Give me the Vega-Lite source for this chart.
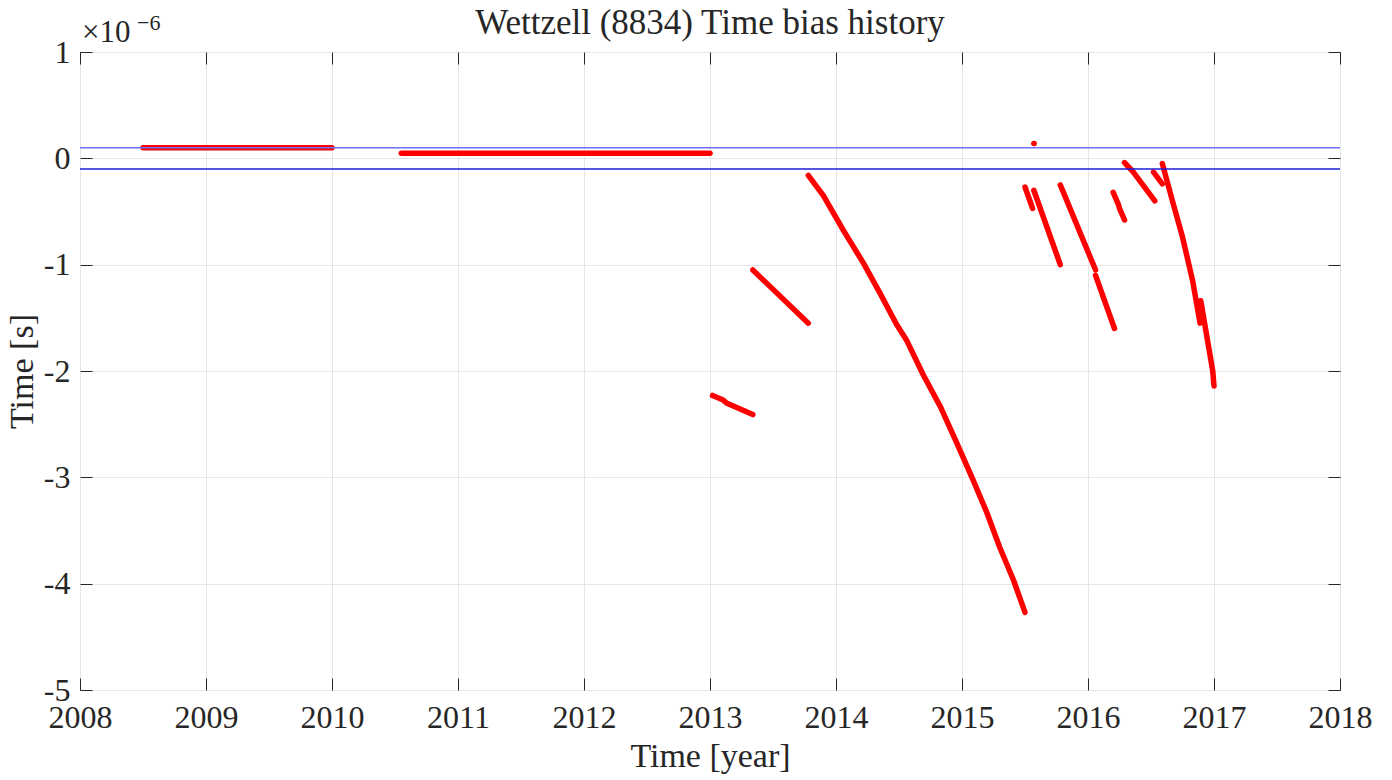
{
  "$schema": "https://vega.github.io/schema/vega-lite/v6.json",
  "width": 1260,
  "height": 638,
  "autosize": {"type": "none"},
  "padding": {"left": 80, "top": 52, "right": 52, "bottom": 90},
  "background": "white",
  "config": {
    "font": "Liberation Serif",
    "view": {"stroke": "#262626", "strokeWidth": 1},
    "axis": {"labelFont": "Liberation Serif", "titleFont": "Liberation Serif", "labelColor": "#262626", "titleColor": "#262626", "titleFontWeight": "normal"}
  },
  "title": {"text": "Wettzell (8834) Time bias history", "fontSize": 35, "fontWeight": "normal", "color": "#262626", "font": "Liberation Serif", "frame": "group", "anchor": "middle", "offset": -29},
  "datasets": {
    "bias": [
      {"seg": "A", "year": 2008.5, "v": 0.1}, {"seg": "A", "year": 2010.0, "v": 0.1},
      {"seg": "B", "year": 2010.55, "v": 0.047}, {"seg": "B", "year": 2013.0, "v": 0.047},
      {"seg": "C", "year": 2013.02, "v": -2.23}, {"seg": "C", "year": 2013.1, "v": -2.27}, {"seg": "C", "year": 2013.13, "v": -2.3}, {"seg": "C", "year": 2013.34, "v": -2.41},
      {"seg": "D", "year": 2013.34, "v": -1.05}, {"seg": "D", "year": 2013.78, "v": -1.55},
      {"seg": "E", "year": 2013.78, "v": -0.16}, {"seg": "E", "year": 2013.9, "v": -0.35}, {"seg": "E", "year": 2014.06, "v": -0.68}, {"seg": "E", "year": 2014.22, "v": -0.99}, {"seg": "E", "year": 2014.35, "v": -1.27}, {"seg": "E", "year": 2014.48, "v": -1.56}, {"seg": "E", "year": 2014.56, "v": -1.71}, {"seg": "E", "year": 2014.69, "v": -2.03}, {"seg": "E", "year": 2014.83, "v": -2.34}, {"seg": "E", "year": 2014.96, "v": -2.68}, {"seg": "E", "year": 2015.09, "v": -3.03}, {"seg": "E", "year": 2015.2, "v": -3.34}, {"seg": "E", "year": 2015.3, "v": -3.66}, {"seg": "E", "year": 2015.41, "v": -3.97}, {"seg": "E", "year": 2015.5, "v": -4.27},
      {"seg": "F", "year": 2015.57, "v": 0.14}, {"seg": "F", "year": 2015.573, "v": 0.14},
      {"seg": "G", "year": 2015.5, "v": -0.27}, {"seg": "G", "year": 2015.56, "v": -0.47},
      {"seg": "H", "year": 2015.57, "v": -0.3}, {"seg": "H", "year": 2015.78, "v": -1.0},
      {"seg": "I", "year": 2015.78, "v": -0.25}, {"seg": "I", "year": 2016.06, "v": -1.05},
      {"seg": "J", "year": 2016.06, "v": -1.1}, {"seg": "J", "year": 2016.21, "v": -1.6},
      {"seg": "K", "year": 2016.2, "v": -0.32}, {"seg": "K", "year": 2016.24, "v": -0.43}, {"seg": "K", "year": 2016.25, "v": -0.47}, {"seg": "K", "year": 2016.29, "v": -0.58},
      {"seg": "L", "year": 2016.29, "v": -0.04}, {"seg": "L", "year": 2016.36, "v": -0.13}, {"seg": "L", "year": 2016.53, "v": -0.4},
      {"seg": "M", "year": 2016.52, "v": -0.13}, {"seg": "M", "year": 2016.59, "v": -0.24},
      {"seg": "N", "year": 2016.59, "v": -0.05}, {"seg": "N", "year": 2016.67, "v": -0.4}, {"seg": "N", "year": 2016.75, "v": -0.74}, {"seg": "N", "year": 2016.83, "v": -1.15}, {"seg": "N", "year": 2016.89, "v": -1.55},
      {"seg": "O", "year": 2016.895, "v": -1.34}, {"seg": "O", "year": 2016.99, "v": -2.0}, {"seg": "O", "year": 2017.0, "v": -2.14}
    ],
    "limits": [
      {"lim": "upper", "v": 0.1},
      {"lim": "lower", "v": -0.1}
    ],
    "scaleNote": [
      {"year": 2008, "v": 1, "base": "×10", "exp": "−6"}
    ]
  },
  "resolve": {"axis": {"x": "independent", "y": "independent"}},
  "layer": [
    {
      "data": {"name": "bias"},
      "mark": {"type": "line", "color": "#ff0000", "strokeWidth": 5.5, "strokeCap": "round", "strokeJoin": "round", "clip": true},
      "encoding": {
        "x": {"field": "year", "type": "quantitative", "scale": {"domain": [2008, 2018], "nice": false, "zero": false},
          "axis": {"title": "Time [year]", "titleFontSize": 34, "labelFontSize": 32, "format": "d", "values": [2008, 2009, 2010, 2011, 2012, 2013, 2014, 2015, 2016, 2017, 2018], "grid": true, "gridColor": "#e6e6e6", "domain": false, "tickColor": "#262626", "tickSize": -12, "labelPadding": 24, "titlePadding": 6, "labelFlush": false}},
        "y": {"field": "v", "type": "quantitative", "scale": {"domain": [-5, 1], "nice": false, "zero": false},
          "axis": {"title": "Time [s]", "titleFontSize": 34, "labelFontSize": 32, "values": [-5, -4, -3, -2, -1, 0, 1], "labelExpr": "datum.value < 0 ? '-' + abs(datum.value) : '' + datum.value", "grid": true, "gridColor": "#e6e6e6", "domain": false, "tickColor": "#262626", "tickSize": -12, "labelPadding": 22, "titlePadding": 4}},
        "detail": {"field": "seg", "type": "nominal"}
      }
    },
    {
      "data": {"name": "limits"},
      "mark": {"type": "rule", "strokeWidth": 1.5},
      "encoding": {
        "y": {"field": "v", "type": "quantitative",
          "axis": {"orient": "right", "labels": false, "title": null, "grid": false, "domain": false, "tickColor": "#262626", "tickSize": -12, "values": [-5, -4, -3, -2, -1, 0, 1]}},
        "color": {"field": "lim", "type": "nominal", "scale": {"domain": ["upper", "lower"], "range": ["#6f6fff", "#1c1cd6"]}, "legend": null}
      }
    },
    {
      "data": {"name": "scaleNote"},
      "mark": {"type": "text", "align": "left", "baseline": "alphabetic", "fontSize": 31, "color": "#262626", "dy": -10, "dx": 2, "font": "Liberation Serif"},
      "encoding": {
        "x": {"field": "year", "type": "quantitative",
          "axis": {"orient": "top", "labels": false, "title": null, "grid": false, "domain": false, "tickColor": "#262626", "tickSize": -12, "values": [2008, 2009, 2010, 2011, 2012, 2013, 2014, 2015, 2016, 2017, 2018]}},
        "y": {"field": "v", "type": "quantitative", "axis": null},
        "text": {"field": "base"}
      }
    },
    {
      "data": {"name": "scaleNote"},
      "mark": {"type": "text", "align": "left", "baseline": "alphabetic", "fontSize": 22, "color": "#262626", "dy": -22, "dx": 57, "font": "Liberation Serif"},
      "encoding": {
        "x": {"field": "year", "type": "quantitative", "axis": null},
        "y": {"field": "v", "type": "quantitative", "axis": null},
        "text": {"field": "exp"}
      }
    }
  ]
}
